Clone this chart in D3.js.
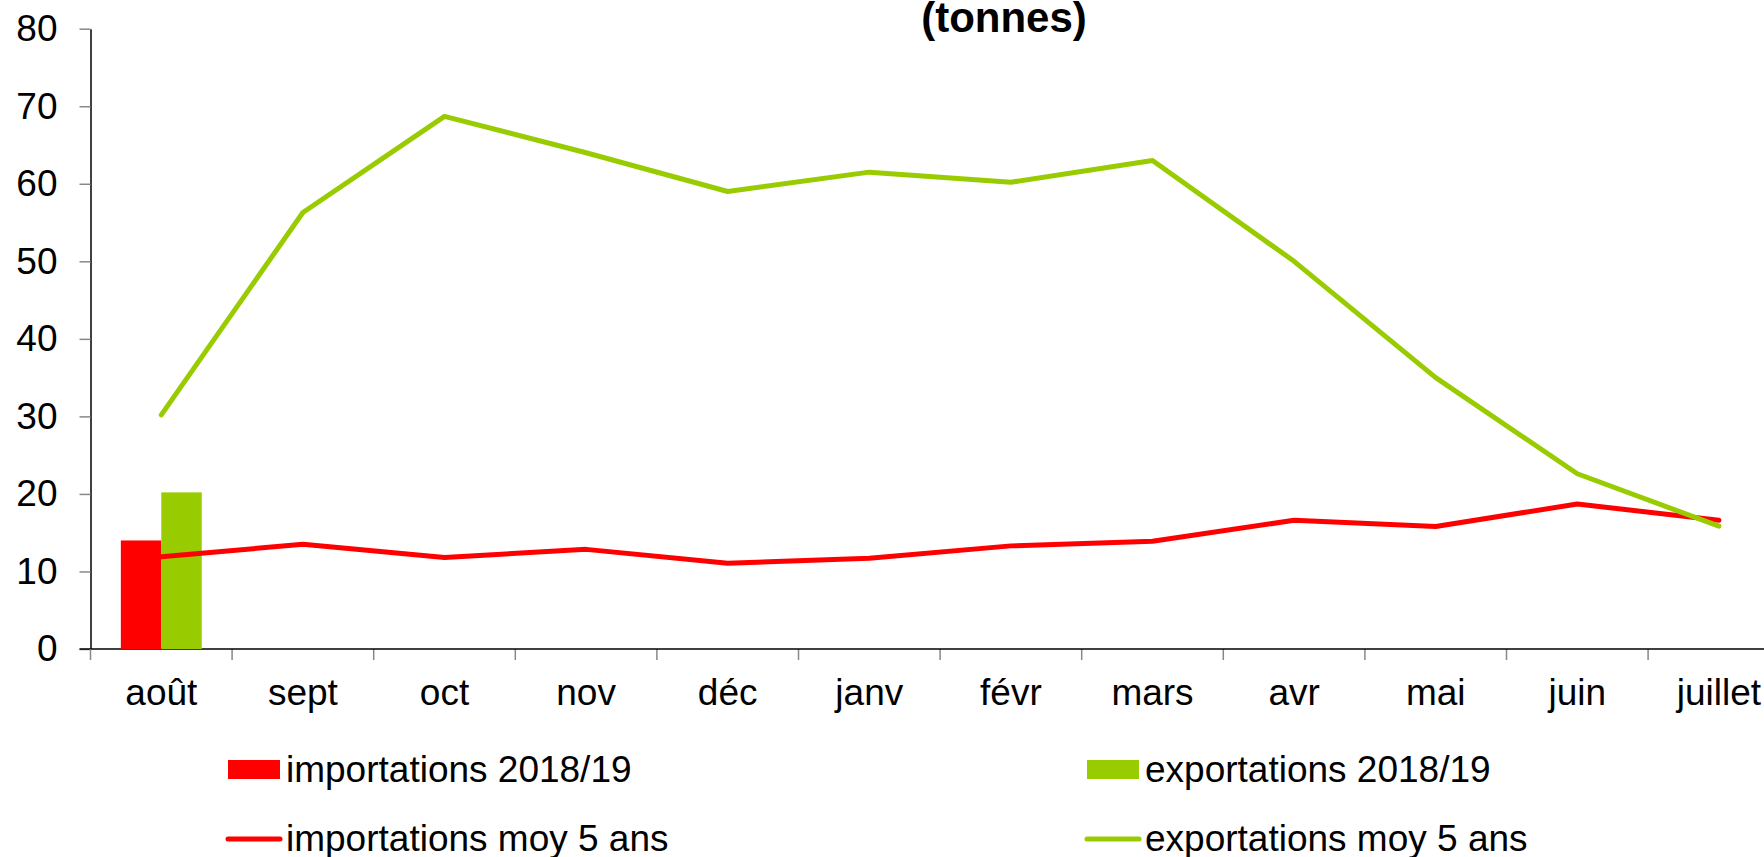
<!DOCTYPE html>
<html>
<head>
<meta charset="utf-8">
<script src="https://cdnjs.cloudflare.com/ajax/libs/d3/7.8.5/d3.min.js"></script>
<style>
  body { margin: 0; background: #fff; }
  svg { display: block; font-family: "Liberation Sans", Arial, sans-serif; }
  .axis text { font-size: 37px; fill: #000; }
</style>
</head>
<body>
<script>
// Figure size
const W = 1764, H = 857;
const margin = { top: 28.7, left: 90.5, bottom: 208 };
const STEP = 141.6;

// Colors
const RED   = '#FF0000';
const GREEN = '#99CC00';

// Data (tonnes)
const MONTHS   = ['août', 'sept', 'oct', 'nov', 'déc', 'janv', 'févr', 'mars', 'avr', 'mai', 'juin', 'juillet'];
const IMP_2018 = [14.0, null, null, null, null, null, null, null, null, null, null, null];
const EXP_2018 = [20.2, null, null, null, null, null, null, null, null, null, null, null];
const IMP_MOY  = [11.9, 13.5, 11.8, 12.85, 11.05, 11.7, 13.3, 13.9, 16.6, 15.8, 18.7, 16.6];
const EXP_MOY  = [30.2, 56.3, 68.7, 64.0, 59.0, 61.5, 60.2, 63.0, 50.0, 35.0, 22.6, 15.85];
const Y_TICKS  = [0, 10, 20, 30, 40, 50, 60, 70, 80];

const svg = d3.select("body").append("svg")
    .attr("width", W)
    .attr("height", H);

// Scales
const x = d3.scaleBand()
  .domain(MONTHS)
  .range([margin.left, margin.left + STEP * MONTHS.length])
  .padding(0);
const y = d3.scaleLinear()
  .domain([0, 80])
  .range([H - margin.bottom, margin.top]);

// bars: 2 per group, gap width 150%
const barW = x.bandwidth() / 3.5;
const xSub = d3.scaleBand()
  .domain(['imp', 'exp'])
  .range([(x.bandwidth() - 2 * barW) / 2, (x.bandwidth() + 2 * barW) / 2]);

// Title (first line is cut off above the picture)
svg.append("text")
  .attr("x", 1004)
  .attr("y", 32)
  .attr("text-anchor", "middle")
  .style("font-size", "42px")
  .style("font-weight", "bold")
  .text("(tonnes)");

// Y axis
svg.append("g")
  .attr("class", "axis")
  .attr("transform", `translate(${margin.left},0)`)
  .call(d3.axisLeft(y).tickValues(Y_TICKS).tickSize(11).tickSizeOuter(0).tickPadding(22))
  .call(g => g.select(".domain").attr("stroke", "#000").attr("stroke-width", 1.5))
  .call(g => g.selectAll(".tick line").attr("stroke", "#888").attr("stroke-width", 1.5));

// X axis: labels at band centres, ticks at band edges
const y0 = y(0);
const xAxis = svg.append("g")
  .attr("class", "axis")
  .attr("transform", `translate(0,${y0})`)
  .call(d3.axisBottom(x).tickSize(0).tickSizeOuter(0))
  .call(g => g.select(".domain").remove())
  .call(g => g.selectAll("text").attr("y", 56).attr("dy", 0));

xAxis.selectAll(".edge")
  .data(MONTHS.slice(1).concat(['__end']))
  .join("line")
    .attr("class", "edge")
    .attr("x1", d => d === '__end' ? x.range()[1] : x(d))
    .attr("x2", d => d === '__end' ? x.range()[1] : x(d))
    .attr("y1", 0)
    .attr("y2", 11)
    .attr("stroke", "#888")
    .attr("stroke-width", 1.5);

xAxis.append("line")
  .attr("x1", margin.left - 11)
  .attr("x2", W)
  .attr("stroke", "#000")
  .attr("stroke-width", 1.5);
xAxis.append("line")
  .attr("x1", margin.left).attr("x2", margin.left)
  .attr("y1", 0).attr("y2", 11)
  .attr("stroke", "#888")
  .attr("stroke-width", 1.5);

// Bars
const barData = [];
MONTHS.forEach((m, i) => {
  if (IMP_2018[i] != null) barData.push({ m, key: 'imp', v: IMP_2018[i], c: RED });
  if (EXP_2018[i] != null) barData.push({ m, key: 'exp', v: EXP_2018[i], c: GREEN });
});
svg.append("g").selectAll("rect")
  .data(barData)
  .join("rect")
    .attr("x", d => x(d.m) + xSub(d.key))
    .attr("y", d => y(d.v))
    .attr("width", xSub.bandwidth())
    .attr("height", d => y0 - y(d.v))
    .attr("fill", d => d.c);

// Lines
const line = d3.line()
  .x((d, i) => x(MONTHS[i]) + x.bandwidth() / 2)
  .y(d => y(d));

[[IMP_MOY, RED], [EXP_MOY, GREEN]].forEach(([vals, col]) => {
  svg.append("path")
    .datum(vals)
    .attr("d", line)
    .attr("fill", "none")
    .attr("stroke", col)
    .attr("stroke-width", 5)
    .attr("stroke-linejoin", "round")
    .attr("stroke-linecap", "round");
});

// Legend
const LEGEND = [
  { label: 'importations 2018/19',   color: RED,   type: 'bar',  x: 228,  y: 769.5 },
  { label: 'exportations 2018/19',   color: GREEN, type: 'bar',  x: 1087, y: 769.5 },
  { label: 'importations moy 5 ans', color: RED,   type: 'line', x: 228,  y: 839 },
  { label: 'exportations moy 5 ans', color: GREEN, type: 'line', x: 1087, y: 839 }
];
const lg = svg.append("g").selectAll("g")
  .data(LEGEND)
  .join("g")
    .attr("transform", d => `translate(${d.x},${d.y})`);
lg.filter(d => d.type === 'bar').append("rect")
  .attr("x", 0).attr("y", -9.5)
  .attr("width", 52).attr("height", 19)
  .attr("fill", d => d.color);
lg.filter(d => d.type === 'line').append("line")
  .attr("x1", 0).attr("x2", 52)
  .attr("stroke", d => d.color)
  .attr("stroke-width", 5)
  .attr("stroke-linecap", "round");
lg.append("text")
  .attr("x", 58)
  .attr("y", 12)
  .style("font-size", "37px")
  .text(d => d.label);
</script>
</body>
</html>
